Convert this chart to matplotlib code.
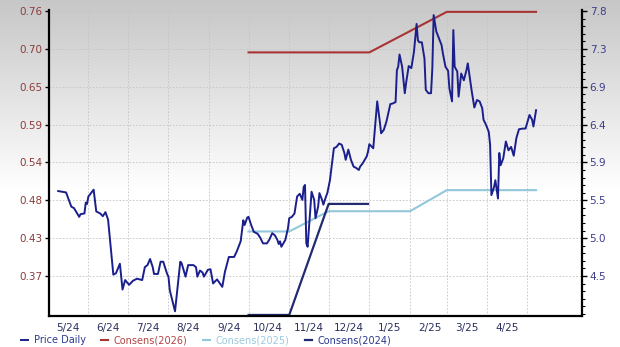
import numpy as np
import pandas as pd
import matplotlib
matplotlib.use("Agg")
import matplotlib.pyplot as plt
from matplotlib.ticker import AutoMinorLocator, FormatStrFormatter, FixedLocator, FuncFormatter

# daily price (left axis)
price_dates = [
    "2024-05-09", "2024-05-15", "2024-05-19", "2024-05-21", "2024-05-25", "2024-05-26",
    "2024-05-29", "2024-05-30", "2024-05-31", "2024-06-01", "2024-06-05", "2024-06-07",
    "2024-06-10", "2024-06-12", "2024-06-14", "2024-06-16", "2024-06-20", "2024-06-22",
    "2024-06-25", "2024-06-27", "2024-06-29", "2024-07-02", "2024-07-05", "2024-07-08",
    "2024-07-12", "2024-07-14", "2024-07-16", "2024-07-18", "2024-07-20", "2024-07-21",
    "2024-07-24", "2024-07-26", "2024-07-28", "2024-07-31", "2024-08-01", "2024-08-02",
    "2024-08-06", "2024-08-10", "2024-08-11", "2024-08-14", "2024-08-16", "2024-08-20",
    "2024-08-22", "2024-08-23", "2024-08-25", "2024-08-27", "2024-08-28", "2024-08-31",
    "2024-09-02", "2024-09-04", "2024-09-07", "2024-09-11", "2024-09-13", "2024-09-16",
    "2024-09-20", "2024-09-22", "2024-09-25", "2024-09-27", "2024-09-28", "2024-09-30",
    "2024-10-01", "2024-10-03", "2024-10-05", "2024-10-08", "2024-10-10", "2024-10-12",
    "2024-10-15", "2024-10-17", "2024-10-19", "2024-10-21", "2024-10-23", "2024-10-24",
    "2024-10-25", "2024-10-26", "2024-10-29", "2024-10-31", "2024-11-01", "2024-11-03",
    "2024-11-05", "2024-11-07", "2024-11-09", "2024-11-11", "2024-11-12", "2024-11-13",
    "2024-11-14", "2024-11-15", "2024-11-17", "2024-11-18", "2024-11-20", "2024-11-21",
    "2024-11-23", "2024-11-24", "2024-11-26", "2024-11-27", "2024-11-29", "2024-11-30",
    "2024-12-02", "2024-12-05", "2024-12-07", "2024-12-09", "2024-12-11", "2024-12-13",
    "2024-12-14", "2024-12-16", "2024-12-18", "2024-12-20", "2024-12-22", "2024-12-24",
    "2024-12-25", "2024-12-27", "2024-12-30", "2024-12-31", "2025-01-01", "2025-01-03",
    "2025-01-04", "2025-01-07", "2025-01-09", "2025-01-10", "2025-01-12", "2025-01-14",
    "2025-01-16", "2025-01-17", "2025-01-19", "2025-01-21", "2025-01-22", "2025-01-23",
    "2025-01-24", "2025-01-26", "2025-01-27", "2025-01-28", "2025-01-29", "2025-01-31",
    "2025-02-02", "2025-02-04", "2025-02-06", "2025-02-07", "2025-02-08", "2025-02-10",
    "2025-02-12", "2025-02-13", "2025-02-15", "2025-02-17", "2025-02-18", "2025-02-19",
    "2025-02-21", "2025-02-23", "2025-02-25", "2025-02-26", "2025-02-28", "2025-03-02",
    "2025-03-03", "2025-03-05", "2025-03-06", "2025-03-07", "2025-03-09", "2025-03-10",
    "2025-03-12", "2025-03-14", "2025-03-16", "2025-03-17", "2025-03-19", "2025-03-20",
    "2025-03-22", "2025-03-24", "2025-03-26", "2025-03-28", "2025-03-29", "2025-03-31",
    "2025-04-02", "2025-04-03", "2025-04-04", "2025-04-06", "2025-04-07", "2025-04-09",
    "2025-04-10", "2025-04-11", "2025-04-13", "2025-04-15", "2025-04-17", "2025-04-19",
    "2025-04-21", "2025-04-23", "2025-04-25", "2025-04-28", "2025-04-30", "2025-05-03",
    "2025-05-05", "2025-05-06", "2025-05-08",
]
price_vals = [
    0.495, 0.493, 0.472, 0.470, 0.457, 0.461,
    0.462, 0.478, 0.476, 0.487, 0.497, 0.465,
    0.462, 0.458, 0.464, 0.453, 0.372, 0.374,
    0.388, 0.350, 0.364, 0.357, 0.363, 0.366,
    0.364, 0.383, 0.386, 0.395, 0.383, 0.373,
    0.373, 0.391, 0.391, 0.373, 0.369, 0.349,
    0.318, 0.391, 0.389, 0.369, 0.386, 0.386,
    0.383, 0.369, 0.378, 0.375, 0.369, 0.379,
    0.380, 0.359, 0.365, 0.354, 0.376, 0.398,
    0.398, 0.406, 0.421, 0.452, 0.445, 0.456,
    0.457, 0.445, 0.435, 0.432, 0.426, 0.418,
    0.418, 0.424, 0.433, 0.430, 0.423, 0.417,
    0.421, 0.413, 0.423, 0.440, 0.455, 0.457,
    0.462, 0.487, 0.491, 0.482, 0.501, 0.504,
    0.418, 0.413, 0.467, 0.494, 0.482, 0.455,
    0.472, 0.492, 0.482, 0.475, 0.487, 0.492,
    0.511, 0.558, 0.560, 0.565, 0.563, 0.551,
    0.541, 0.556, 0.541, 0.531, 0.529, 0.526,
    0.531, 0.536, 0.546, 0.553, 0.564, 0.560,
    0.558, 0.627, 0.597, 0.580, 0.585, 0.597,
    0.614, 0.623, 0.624, 0.626, 0.673, 0.678,
    0.696, 0.678, 0.658, 0.639, 0.654, 0.679,
    0.676, 0.700, 0.741, 0.717, 0.714, 0.714,
    0.690, 0.644, 0.639, 0.639, 0.676, 0.754,
    0.730, 0.720, 0.710, 0.698, 0.678, 0.672,
    0.646, 0.627, 0.732, 0.678, 0.671, 0.634,
    0.668, 0.658, 0.673, 0.683, 0.656, 0.642,
    0.618, 0.629, 0.627, 0.617, 0.600, 0.592,
    0.582, 0.563, 0.489, 0.501, 0.511, 0.484,
    0.551, 0.533, 0.543, 0.568, 0.555, 0.560,
    0.547, 0.573, 0.586, 0.587, 0.587, 0.607,
    0.600, 0.590, 0.614,
]

# consensus estimates (right axis)
c2026_dates = ["2024-10-01", "2025-01-01", "2025-03-01", "2025-05-08"]
c2026_vals = [7.29, 7.29, 7.79, 7.79]
c2025_dates = ["2024-10-01", "2024-11-01", "2024-12-01", "2025-02-01", "2025-03-01", "2025-05-08"]
c2025_vals = [5.08, 5.08, 5.33, 5.33, 5.59, 5.59]
c2024_dates = ["2024-10-01", "2024-11-01", "2024-12-01", "2024-12-31"]
c2024_vals = [4.05, 4.05, 5.42, 5.42]

left_ticks = np.linspace(0.37, 0.76, 8)
right_ticks = 7.8 - 0.467 * np.arange(8)

price_col = "#1b1f8c"
c2026_col = "#a83434"
c2025_col = "#92c8da"
c2024_col = "#222a70"

fig = plt.figure(figsize=(6.2, 3.47), dpi=100)

# grey-to-white background
bg = fig.add_axes([0, 0, 1, 1], zorder=-10)
t = np.clip(np.linspace(0, 1, 347) / 0.55, 0, 1)
shade = 0.78 + 0.22 * t
bg.imshow(np.repeat(shade[:, None, None], 3, axis=2), aspect="auto", extent=[0, 1, 0, 1])
bg.axis("off")

ax = fig.add_axes([49 / 620, 1 - 316 / 347, 533 / 620, 306 / 347])
ax2 = ax.twinx()
ax.set_zorder(ax2.get_zorder() + 1)
ax.patch.set_visible(False)
ax2.patch.set_visible(False)

l_price, = ax.plot(pd.to_datetime(price_dates), price_vals, color=price_col, lw=1.4,
                   solid_joinstyle="round", label="Price Daily")
l26, = ax2.plot(pd.to_datetime(c2026_dates), c2026_vals, color=c2026_col, lw=1.5, label="Consens(2026)")
l25, = ax2.plot(pd.to_datetime(c2025_dates), c2025_vals, color=c2025_col, lw=1.5, label="Consens(2025)")
l24, = ax2.plot(pd.to_datetime(c2024_dates), c2024_vals, color=c2024_col, lw=1.6, label="Consens(2024)")

ax.set_xlim(pd.Timestamp("2024-05-02"), pd.Timestamp("2025-06-12"))
ax.set_ylim(0.3111, 0.7615)
ax2.set_ylim(4.037, 7.813)

month_starts = pd.date_range("2024-06-01", "2025-05-01", freq="MS")
mid_months = pd.date_range("2024-05-01", "2025-04-01", freq="MS") + pd.Timedelta(days=15)
ax.xaxis.set_major_locator(FixedLocator(matplotlib.dates.date2num(month_starts)))
ax.xaxis.set_minor_locator(FixedLocator(matplotlib.dates.date2num(mid_months)))
ax.xaxis.set_major_formatter(FuncFormatter(lambda v, p: ""))
ax.xaxis.set_minor_formatter(FuncFormatter(
    lambda v, p: f"{matplotlib.dates.num2date(v).month}/{matplotlib.dates.num2date(v).year % 100}"))
ax.tick_params(axis="x", which="both", length=0, labelsize=7.5, labelcolor="#2a2f5e", pad=5)

ax.set_yticks(left_ticks)
ax.yaxis.set_major_formatter(FormatStrFormatter("%.2f"))
ax.tick_params(axis="y", length=3, width=1, labelsize=7.5, labelcolor="#8c3c3c", pad=2)

ax2.set_yticks(right_ticks)
ax2.yaxis.set_major_formatter(FormatStrFormatter("%.1f"))
ax2.yaxis.set_minor_locator(AutoMinorLocator(5))
ax2.tick_params(axis="y", which="major", length=3.5, width=1, labelsize=7.5, labelcolor="#3c3c8c", pad=2)
ax2.tick_params(axis="y", which="minor", length=2, width=0.8)

# grid on the lower (right-hand) axes so it stays beneath every line
ax2.xaxis.set_visible(True)
ax2.tick_params(axis="x", which="both", length=0, labelbottom=False, labeltop=False)
ax2.set_axisbelow(True)
ax2.grid(True, which="major", axis="both", color="#c4c4c4", linestyle=(0, (2, 2)), lw=0.6)

for s in ["top", "right"]:
    ax.spines[s].set_visible(False)
for s in ["top", "left", "bottom"]:
    ax2.spines[s].set_visible(False)
ax.spines["left"].set_linewidth(1.6)
ax.spines["bottom"].set_linewidth(1.6)
ax2.spines["right"].set_linewidth(1.6)

leg = fig.legend([l_price, l26, l25, l24],
                 ["Price Daily", "Consens(2026)", "Consens(2025)", "Consens(2024)"],
                 loc="lower left", bbox_to_anchor=(0.02, -0.02), ncol=4, frameon=False,
                 fontsize=7, handlelength=0.7, handletextpad=0.6, columnspacing=1.6)
for txt, col in zip(leg.get_texts(), ["#2b3a8f", "#b04444", "#9ccbe0", "#2b3a8f"]):
    txt.set_color(col)

fig.savefig("out.png", dpi=100)
